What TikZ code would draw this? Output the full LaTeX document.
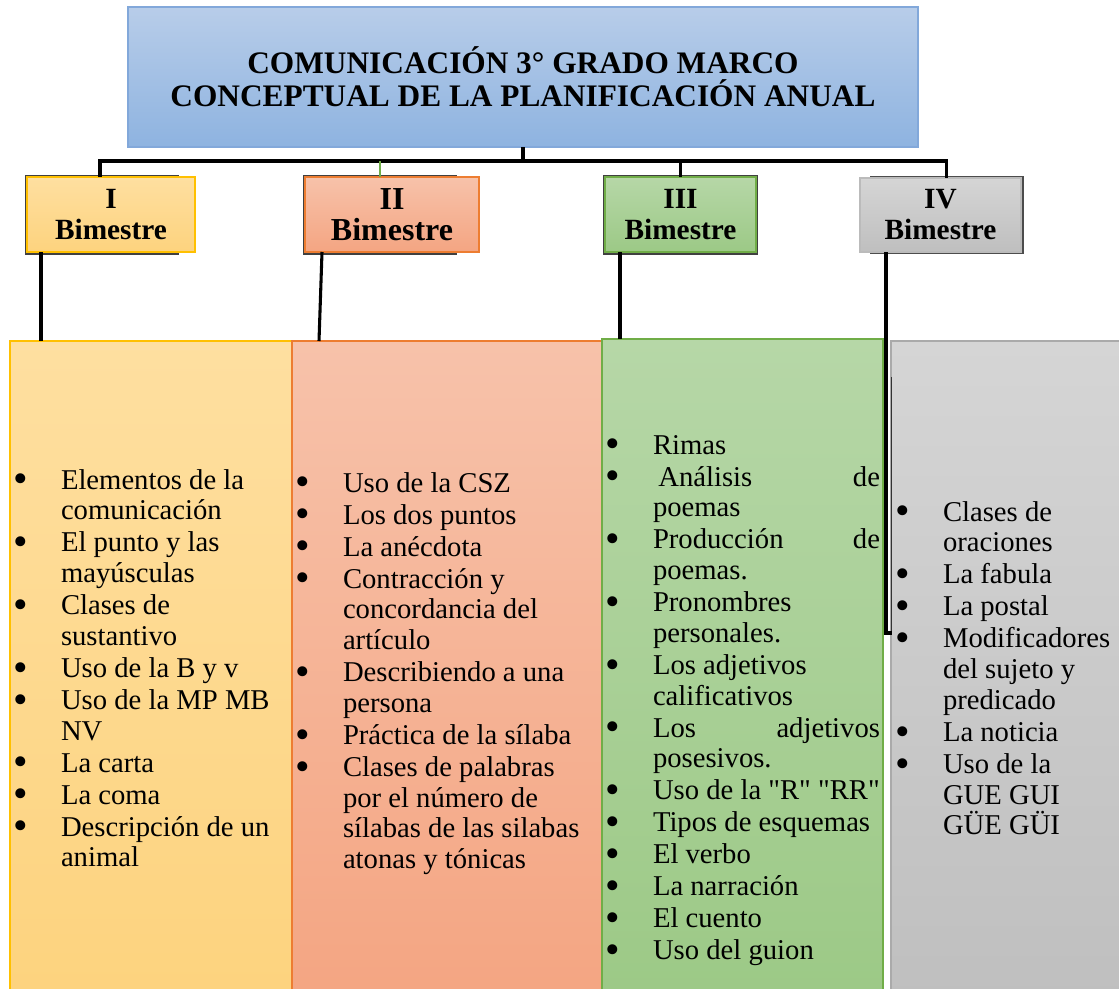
\documentclass[tikz,border=0pt]{standalone}
\usepackage{fontspec}
\setmainfont{Liberation Serif}
\newfontfamily\plainserif{Liberation Serif}
\usetikzlibrary{calc}
\definecolor{titletop}{RGB}{184,205,233}
\definecolor{titlebot}{RGB}{142,179,224}
\definecolor{titleedge}{RGB}{130,168,218}
\definecolor{ytop}{RGB}{254,223,160}
\definecolor{ybot}{RGB}{253,211,126}
\definecolor{yedge}{RGB}{255,192,0}
\definecolor{otop}{RGB}{247,194,170}
\definecolor{obot}{RGB}{244,165,130}
\definecolor{oedge}{RGB}{237,125,49}
\definecolor{gtop}{RGB}{182,215,167}
\definecolor{gbot}{RGB}{156,201,134}
\definecolor{gedge}{RGB}{112,173,71}
\definecolor{stop}{RGB}{213,213,213}
\definecolor{sbot}{RGB}{191,191,191}
\definecolor{sedge}{RGB}{170,170,170}
\newcommand\bigbullet{\raisebox{-0.13em}{\scalebox{1.45}{\textbullet}}}
\newcommand\bitem[1]{\par\noindent\hangindent=36pt\hangafter=1\makebox[36pt][l]{\bigbullet}#1\par}
\newcommand\listfont{\fontsize{21.5}{23.06}\selectfont\parskip=0.95pt\relax}
\begin{document}
\begin{tikzpicture}[x=0.75pt,y=-0.75pt,
  box/.style={draw, line width=0.9pt, inner sep=0pt, outer sep=0pt, anchor=north west, align=center},
  bimfont/.style={font=\fontsize{22}{23.25}\selectfont\bfseries},
  conn/.style={line width=2.3pt, black},
  shadowline/.style={draw=black!75, line width=0.8pt},
  listnode/.style={anchor=base west, inner sep=0pt, outer sep=0pt}]
\useasboundingbox (0,0) rectangle (1119,988);
\fill[white] (0,0) rectangle (1119,988);

% title
\node[box, draw=titleedge, top color=titletop, bottom color=titlebot,
      minimum width=592.5pt, minimum height=105pt,
      font=\fontsize{23.5}{24.75}\selectfont\bfseries] (title) at (128,7)
  {COMUNICACIÓN 3° GRADO MARCO\\CONCEPTUAL DE LA PLANIFICACIÓN ANUAL};

% shadows of bimestre boxes
\draw[shadowline] (26,176) rectangle (178,254);
\draw[shadowline] (304,176) rectangle (456,254);
\draw[shadowline] (604,176) rectangle (757,254);
\draw[shadowline, draw=black!70] (871,176.5) rectangle (1023,253.5);

% bimestre boxes
\node[box, bimfont, draw=yedge, top color=ytop, bottom color=ybot,
      minimum width=126pt, minimum height=56.25pt] (b1) at (27,177) {I\\Bimestre};
\node[box, font=\fontsize{24}{23.25}\selectfont\bfseries, draw=oedge, top color=otop, bottom color=obot,
      minimum width=130.5pt, minimum height=56.25pt] (b2) at (305,177) {II\\Bimestre};
\node[box, bimfont, draw=gedge, top color=gtop, bottom color=gbot,
      minimum width=113.25pt, minimum height=56.25pt] (b3) at (605,177) {III\\Bimestre};
\node[box, bimfont, draw=sedge!80, top color=stop, bottom color=sbot,
      minimum width=120.75pt, minimum height=55.5pt] (b4) at (860,178) {IV\\Bimestre};

% columns
\node[box, draw=yedge, top color=ytop, bottom color=ybot,
      minimum width=211.5pt, minimum height=495pt] (c1) at (10,341) {};
\node[box, draw=oedge, top color=otop, bottom color=obot,
      minimum width=232.5pt, minimum height=495pt] (c2) at (292,341) {};
\node[box, draw=gedge, top color=gtop, bottom color=gbot,
      minimum width=210.75pt, minimum height=496.5pt] (c3) at (602,339) {};
\node[box, draw=sedge, top color=stop, bottom color=sbot,
      minimum width=180pt, minimum height=495pt] (c4) at (891,341) {};

% upper connectors
\draw[conn] (title.south) -- ++(0,14) coordinate (j);
\draw[conn] ([xshift=54.75pt]b1.north west) -- ++(0,-16) -| ([xshift=4.5pt]b4.north);
\draw[conn] (j -| b3.north) -- (b3.north);
\draw[gedge, line width=0.8pt] ([xshift=-9pt]b2.north) -- ++(0,-16);

% lower connectors
\coordinate (d1) at ([xshift=10.5pt]b1.south west);
\draw[conn] (d1) -- (d1 |- c1.north);
\draw[conn] ([xshift=12.75pt]b2.south west) -- ([xshift=20.25pt]c2.north west);
\coordinate (d3) at ([xshift=11.25pt]b3.south west);
\draw[conn] (d3) -- (d3 |- c3.north);
\coordinate (d4) at ([xshift=19.5pt]b4.south west);
\coordinate (e4) at (892,633);
\draw[black!80, line width=0.8pt] (891.5,377) -- (891.5,633);
\draw[conn] (d4) -- (d4 |- e4) -- (e4);

% lists
\node[listnode] (l1) at (13,489) {\parbox[t]{207.75pt}{\listfont
  \bitem{Elementos de la\\comunicación}
  \bitem{El punto y las\\mayúsculas}
  \bitem{Clases de\\sustantivo}
  \bitem{Uso de la B y v}
  \bitem{Uso de la MP MB\\NV}
  \bitem{La carta}
  \bitem{La coma}
  \bitem{Descripción de un\\animal}}};
\node[listnode] (l2) at (295,492) {\parbox[t]{228.75pt}{\listfont
  \bitem{Uso de la CSZ}
  \bitem{Los dos puntos}
  \bitem{La anécdota}
  \bitem{Contracción y\\concordancia del\\artículo}
  \bitem{Describiendo a una\\persona}
  \bitem{Práctica de la sílaba}
  \bitem{Clases de palabras\\por el número de\\sílabas de las silabas\\atonas y tónicas}}};
\node[listnode] (l3) at (605,454) {\parbox[t]{206.25pt}{\listfont
  \bitem{Rimas}
  \bitem{\hspace{4pt}Análisis\hfill de\\poemas}
  \bitem{Producción\hfill de\\poemas.}
  \bitem{Pronombres\\personales.}
  \bitem{Los adjetivos\\calificativos}
  \bitem{Los\hfill adjetivos\\posesivos.}
  \bitem{Uso de la {\plainserif "R" "RR"}}
  \bitem{Tipos de esquemas}
  \bitem{El verbo}
  \bitem{La narración}
  \bitem{El cuento}
  \bitem{Uso del guion}}};
\node[listnode] (l4) at (895,521) {\parbox[t]{168pt}{\listfont
  \bitem{Clases de\\oraciones}
  \bitem{La fabula}
  \bitem{La postal}
  \bitem{Modificadores\\del sujeto y\\predicado}
  \bitem{La noticia}
  \bitem{Uso de la\\GUE GUI\\GÜE GÜI}}};
\end{tikzpicture}
\end{document}
